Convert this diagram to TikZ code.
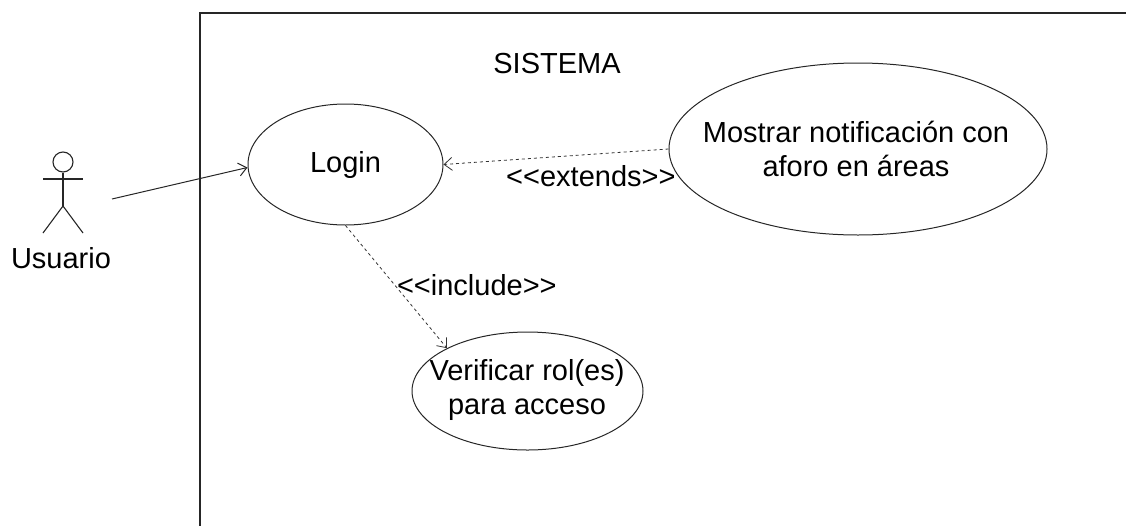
\documentclass[tikz,border=0pt]{standalone}
\usepackage{fontspec}
\setmainfont{Liberation Sans}[Ligatures=TeXOff]
\usetikzlibrary{shapes.geometric,arrows.meta,calc}
\begin{document}
\begin{tikzpicture}[x=1pt,y=-1pt,
  every node/.style={font=\fontsize{29}{34}\selectfont, text=black},
  usecase/.style={draw=black!85, line width=1pt, ellipse, inner sep=0pt},
  txt/.style={inner sep=0pt, align=center},
  actorline/.style={draw=black!85, line width=1.1pt},
  assoc/.style={draw=black!85, line width=1pt, -{Straight Barb[length=8pt,width=13pt]}},
  depline/.style={draw=black!80, line width=0.8pt, dash pattern=on 3pt off 3pt, -{Straight Barb[length=8pt,width=13pt]}},
  frame/.style={draw=black!85, line width=1.4pt}]
\useasboundingbox (0,0) rectangle (1126,525);
\begin{scope}
\clip (0,0) rectangle (1126,525);
\draw[frame] (200,13) rectangle (1140,540);
\end{scope}
\node[txt] (sistema) at (557,64) {SISTEMA};
% actor
\node[draw=black!85, line width=1.1pt, circle, minimum size=20pt, inner sep=0pt] (head) at (63,162) {};
\coordinate (armL) at (43,179);
\coordinate (armR) at (83,179);
\coordinate (hip) at (63,206);
\coordinate (legL) at (43,233);
\coordinate (legR) at (83,233);
\draw[actorline] (head.south) -- (hip);
\draw[actorline] (armL) -- (armR);
\draw[actorline] (legL) -- (hip) -- (legR);
\node[txt] (usuario) at (61,258) {Usuario};
\coordinate (actorR) at (112,199);
% use cases
\node[usecase, minimum width=195pt, minimum height=121pt] (login) at (345.5,164.5) {};
\node[txt] (logintxt) at (login.center) {Login};
\node[usecase, minimum width=378pt, minimum height=172pt] (mostrar) at (858,149) {};
\node[txt] (mostrartxt) at (856,149) {Mostrar notificación con\\aforo en áreas};
\node[usecase, minimum width=231pt, minimum height=118pt] (verif) at (527.5,391) {};
\node[txt] (veriftxt) at (527,390) {Verificar rol(es)\\para acceso};
% connectors
\draw[assoc] (actorR) -- ($(login.west)+(0,3)$);
\draw[depline] (mostrar.west) -- (login.east)
  node[pos=0.345, yshift=-22pt, txt] (extlbl) {<<extends>>};
\draw[depline] (login.south) -- (verif.152)
  node[pos=0.484, anchor=west, xshift=2pt, txt] (inclbl) {<<include>>};
\end{tikzpicture}
\end{document}
